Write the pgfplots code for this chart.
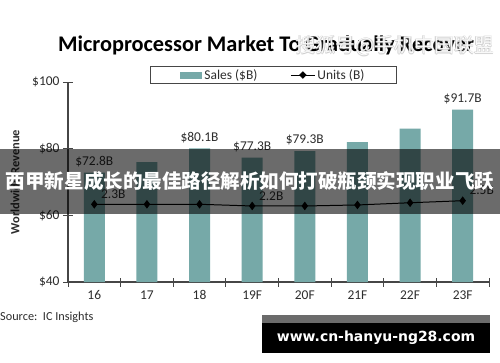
\documentclass[border=0pt]{standalone}
\usepackage{fontspec}
\setmainfont{Carlito}
\newfontfamily\cjk{Noto Sans CJK SC}
\newfontfamily\urlfont{DejaVu Sans}
\usepackage{pgfplots}
\pgfplotsset{compat=1.18}
\definecolor{tealbar}{RGB}{118,169,168}
\definecolor{txt}{RGB}{45,45,45}
\definecolor{axisgray}{RGB}{70,70,70}

\begin{document}
\begin{tikzpicture}[x=1bp,y=1bp]
\useasboundingbox (0,0) rectangle (500,362);
\fill[white] (0,0) rectangle (500,362);
% title
\node[font=\bfseries\fontsize{22.4}{26}\selectfont, text=black] at (266,317) {Microprocessor Market To Gradually Recover};
\begin{axis}[
  at={(68bp,80bp)}, anchor=south west,
  scale only axis, width=421bp, height=200bp,
  xmin=-0.5, xmax=7.5, ymin=40, ymax=100,
  axis x line*=bottom, axis y line*=left,
  axis line style={axisgray, line width=1.1pt},
  xtick={0,...,7},
  xticklabels={16,17,18,19F,20F,21F,22F,23F},
  major x tick style={draw=none},
  minor xtick={-0.5,0.5,...,7.5},
  minor x tick style={axisgray, line width=0.9pt},
  minor tick length=9bp,
  ytick={40,60,80,100},
  yticklabels={\$40,\$60,\$80,\$100},
  y tick style={axisgray, line width=0.9pt},
  major tick length=10bp,
  tick align=center,
  tick label style={font=\fontsize{13.5}{16}\selectfont, text=txt},
  ylabel={Worldwide Revenue},
  ylabel style={font=\bfseries\fontsize{12.5}{15}\selectfont, text=txt, at={(axis description cs:-0.126,0.5)}, anchor=center},
  legend style={at={(0.488,1.08)}, anchor=north, legend columns=2, draw=axisgray, line width=0.8pt,
    font=\fontsize{13.5}{16}\selectfont, text=txt, inner ysep=1pt, inner xsep=30bp,
    nodes={inner xsep=2bp},
    /tikz/every even column/.append style={column sep=31bp}},
  clip=true,
]
\addplot[ybar, bar width=21bp, fill=tealbar, draw=none,
  legend image code/.code={\fill[tealbar] (0bp,-3.5bp) rectangle (22bp,3.5bp);},
  nodes near coords, point meta=explicit symbolic,
  every node near coord/.append style={font=\fontsize{13.5}{16}\selectfont, text=txt, yshift=2bp}]
  coordinates {(0,72.8) [\$72.8B] (1,76.0) [] (2,80.1) [\$80.1B] (3,77.3) [\$77.3B]
               (4,79.3) [\$79.3B] (5,82.0) [] (6,86.0) [] (7,91.7) [\$91.7B]};
\addlegendentry{Sales (\$B)}
\addlegendimage{legend image code/.code={\draw[black, line width=1pt] (0bp,0bp) -- (24bp,0bp); \fill[black] (12bp,0bp) +(0,3.2bp) -- +(3.2bp,0) -- +(0,-3.2bp) -- +(-3.2bp,0) -- cycle;}}
\addlegendentry{Units (B)}
\end{axis}
\begin{axis}[
  at={(68bp,80bp)}, anchor=south west,
  scale only axis, width=421bp, height=200bp,
  xmin=-0.5, xmax=7.5, ymin=-2.27, ymax=9.49,
  hide axis, clip=false,
]
\addplot[black, line width=1pt, mark=diamond*, mark size=3.5bp,
  nodes near coords, point meta=explicit symbolic,
  every node near coord/.append style={font=\fontsize{13.5}{16}\selectfont, text=txt, anchor=south west, xshift=3bp, yshift=2bp}]
  coordinates {(0,2.30) [2.3B] (1,2.30) [] (2,2.30) [] (3,2.20) [2.2B]
               (4,2.20) [] (5,2.26) [] (6,2.39) [] (7,2.51) [2.5B]};
\end{axis}
% source
\node[anchor=west, font=\fontsize{12.3}{14}\selectfont, text=txt, inner sep=0pt] at (0,45) {Source:\ \ IC Insights};
% banner overlay
\fill[black, opacity=0.58] (0,148) rectangle (500,213);
\node[font=\cjk\bfseries\fontsize{19.6}{24}\selectfont, text=white, inner sep=0pt] at (250,181) {西甲新星成长的最佳路径解析如何打破瓶颈实现职业飞跃};
% watermark
\foreach \dx/\dy in {0.6/0,-0.6/0,0/0.6,0/-0.6}{
  \node[font=\cjk\fontsize{20}{24}\selectfont, text=gray!60, opacity=0.5, inner sep=0pt] at (395+\dx,316+\dy) {搜狐号@手机中国联盟};
}
\node[font=\cjk\fontsize{20}{24}\selectfont, text=white, opacity=0.92, inner sep=0pt] at (395,316) {搜狐号@手机中国联盟};
% url box
\fill[black!58] (262,39) rectangle (490,47);
\fill[black] (262,9) rectangle (490,39);
\node[font=\urlfont\bfseries\fontsize{14}{16}\selectfont, text=white, inner sep=0pt] at (376,24) {www.cn-hanyu-ng28.com};
\end{tikzpicture}
\end{document}
